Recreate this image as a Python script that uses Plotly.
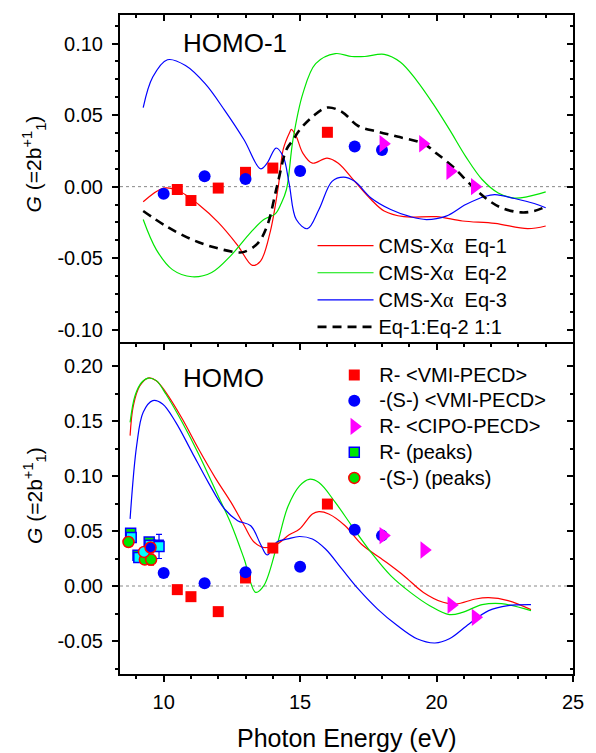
import plotly.graph_objects as go

# ---------------- HOMO-1 : CMS-Xalpha calculations ----------------
h1_eq1_x = [9.25, 10.0, 10.56, 11.28, 12.0, 12.71, 13.25, 13.55, 13.9, 14.2, 14.38, 14.62, 14.68, 14.86, 15.1,
            15.45, 15.99, 16.4, 17.0, 17.6, 18.08, 18.8, 19.99, 20.95, 22.14, 23.34, 24.0]
h1_eq1_y = [-0.0106, -0.001, -0.003, -0.0125, -0.025, -0.041, -0.055, -0.052, -0.032, 0.0, 0.026, 0.038, 0.040,
            0.035, 0.0234, 0.0164, 0.020, 0.0164, 0.0037, -0.009, -0.017, -0.021, -0.021, -0.024, -0.0257,
            -0.0294, -0.0275]

h1_eq2_x = [9.25, 9.73, 10.32, 11.04, 11.76, 12.47, 13.19, 13.67, 14.09, 14.3, 14.5, 14.74, 15.1, 15.57, 16.29,
            16.89, 17.37, 18.08, 18.68, 19.28, 19.87, 20.47, 21.07, 21.67, 22.26, 22.86, 23.34, 24.0]
h1_eq2_y = [-0.023, -0.044, -0.058, -0.063, -0.060, -0.048, -0.032, -0.023, -0.019, -0.012, -0.002, 0.033, 0.065,
            0.086, 0.093, 0.091, 0.091, 0.0925, 0.087, 0.074, 0.058, 0.040, 0.021, 0.005, -0.0044, -0.008,
            -0.007, -0.0037]

h1_eq3_x = [9.25, 9.6, 10.14, 10.8, 11.52, 12.23, 12.95, 13.55, 13.79, 14.12, 14.38, 14.6, 14.86, 15.27, 15.69,
            16.17, 16.59, 17.0, 17.6, 18.32, 19.04, 19.63, 20.35, 21.07, 21.79, 22.14, 22.86, 23.58, 24.0]
h1_eq3_y = [0.0553, 0.0766, 0.0887, 0.0847, 0.072, 0.0535, 0.0326, 0.0125, 0.0164, 0.027, 0.021, 0.002, -0.023,
            -0.0294, -0.016, 0.0037, 0.0067, 0.0037, -0.0079, -0.016, -0.021, -0.023, -0.0206, -0.0125,
            -0.0067, -0.0056, -0.0083, -0.0118, -0.0148]

h1_mix_x = [9.25, 10.08, 11.04, 11.88, 12.71, 12.95, 13.43, 13.79, 14.15, 14.5, 14.74, 14.98, 15.45, 15.99,
            16.53, 17.13, 17.84, 18.56, 19.52, 19.99, 20.59, 21.19, 21.79, 22.38, 23.1, 23.58, 24.0]
h1_mix_y = [-0.017, -0.0275, -0.037, -0.0426, -0.046, -0.0456, -0.040, -0.0275, 0.0, 0.026, 0.0326, 0.0396,
            0.0488, 0.0553, 0.0523, 0.0424, 0.0384, 0.035, 0.030, 0.0234, 0.0141, 0.0025, -0.0079, -0.0148,
            -0.018, -0.017, -0.014]

# ---------------- HOMO-1 : experiment ----------------
h1_R_vmi_x = [10.5, 11.0, 12.0, 13.0, 14.0, 16.0]
h1_R_vmi_y = [-0.002, -0.0097, -0.001, 0.010, 0.013, 0.038]
h1_S_vmi_x = [10.0, 11.5, 13.0, 15.0, 17.0, 18.0]
h1_S_vmi_y = [-0.005, 0.0072, 0.0053, 0.011, 0.028, 0.0257]
h1_cipo_x = [18.05, 19.5, 20.5, 21.4]
h1_cipo_y = [0.030, 0.030, 0.0107, 0.0]

# ---------------- HOMO : CMS-Xalpha calculations ----------------
h_eq1_x = [8.77, 8.89, 9.13, 9.43, 9.73, 10.08, 10.68, 11.28, 11.88, 12.47, 12.95, 13.31, 13.67, 14.15, 14.6,
           14.98, 15.45, 15.69, 16.05, 16.65, 17.25, 18.08, 18.8, 19.52, 20.24, 20.71, 21.43, 21.91, 22.62, 23.46]
h_eq1_y = [0.1367, 0.164, 0.182, 0.189, 0.1867, 0.176, 0.152, 0.1245, 0.0988, 0.076, 0.055, 0.040, 0.035,
           0.038, 0.0465, 0.0518, 0.0655, 0.0676, 0.0655, 0.0548, 0.038, 0.023, 0.0094, -0.0058, -0.0148,
           -0.0164, -0.0118, -0.0106, -0.0133, -0.0215]

h_eq2_x = [8.77, 8.95, 9.19, 9.43, 9.73, 10.08, 10.68, 11.28, 11.88, 12.47, 12.95, 13.37, 13.67, 14.15, 14.55,
           14.98, 15.33, 15.69, 16.29, 16.89, 17.6, 18.32, 19.04, 19.75, 20.47, 20.95, 21.67, 22.38, 23.46]
h_eq2_y = [0.1488, 0.173, 0.185, 0.189, 0.1867, 0.1745, 0.1488, 0.120, 0.088, 0.0564, 0.0245, -0.0058, 0.0003,
           0.0367, 0.072, 0.091, 0.097, 0.094, 0.076, 0.0548, 0.0306, 0.0094, -0.0058, -0.0179, -0.026,
           -0.024, -0.017, -0.016, -0.0224]

h_eq3_x = [8.77, 9.01, 9.25, 9.6, 9.96, 10.44, 11.04, 11.64, 12.23, 12.71, 13.19, 13.55, 13.79, 14.15, 14.55,
           14.98, 15.45, 15.93, 16.53, 17.13, 17.84, 18.56, 19.28, 19.94, 20.47, 21.19, 21.91, 22.62, 23.46]
h_eq3_y = [0.061, 0.1276, 0.158, 0.1685, 0.1655, 0.149, 0.1215, 0.094, 0.070, 0.0594, 0.0548, 0.038, 0.0282,
           0.040, 0.0428, 0.045, 0.0427, 0.0336, 0.0155, -0.0027, -0.021, -0.036, -0.048, -0.0518, -0.048,
           -0.0345, -0.0224, -0.0179, -0.017]

# ---------------- HOMO : experiment ----------------
h_R_vmi_x = [10.5, 11.0, 12.0, 13.0, 14.0, 16.0]
h_R_vmi_y = [-0.0033, -0.0097, -0.0233, 0.0073, 0.0345, 0.0745]
h_S_vmi_x = [10.0, 11.5, 13.0, 15.0, 17.0, 18.0]
h_S_vmi_y = [0.0118, 0.0024, 0.0124, 0.0176, 0.0512, 0.0458]
h_cipo_x = [18.05, 19.55, 20.54, 21.43]
h_cipo_y = [0.0458, 0.0327, -0.0173, -0.0285]

# peak-resolved PECD (several runs near threshold)
R_peaks_x = [8.79, 9.06, 9.47, 9.80]
R_peaks_y = [0.048, 0.028, 0.040, 0.037]
R_peaks_err = [0.004, 0.002, 0.003, 0.004]
R_peaks2_x = [8.81, 9.09, 9.50, 9.83]
R_peaks2_y = [0.044, 0.026, 0.037, 0.036]
R_peaks2_err = [0.003, 0.002, 0.003, 0.011]
S_peaks_x = [8.71, 9.31, 9.54]
S_peaks_y = [0.040, 0.024, 0.024]
S_peaks_err = [0.002, 0.003, 0.005]
S_peaks2_x = [9.28]
S_peaks2_y = [0.031]
S_peaks3_x = [9.52]
S_peaks3_y = [0.035]

# ---------------- axis ticks ----------------
x_range = [8.4, 25.0]
x_ticks = [10, 15, 20, 25]
x_ticktext = ["10", "15", "20", "25"]
top_range = [-0.11, 0.12]
top_ticks = [-0.10, -0.05, 0.0, 0.05, 0.10]
top_ticktext = ["-0.10", "-0.05", "0.00", "0.05", "0.10"]
bot_range = [-0.08, 0.22]
bot_ticks = [-0.05, 0.0, 0.05, 0.10, 0.15, 0.20]
bot_ticktext = ["-0.05", "0.00", "0.05", "0.10", "0.15", "0.20"]

FONT = "Liberation Sans, Arial, sans-serif"
RED, GREEN, BLUE, MAGENTA, CYAN = "#ff0000", "#00e600", "#0000ff", "#ff00ff", "#00ffff"
ALPHA = "<span style=\"font-family:'Liberation Serif'\">α</span>"


def big(label):
    # legend labels are drawn a little larger than the row pitch would give
    return f"<span style=\"font-size:20px\">{label}</span>"


fig = go.Figure()


def curve(x, y, color, name, xa, ya, legend, show, dash=None, width=1.2):
    fig.add_trace(go.Scatter(
        x=x, y=y, mode="lines", name=name, xaxis=xa, yaxis=ya,
        line=dict(color=color, width=width, shape="spline", smoothing=1.0, dash=dash),
        showlegend=show, legend=legend, hoverinfo="skip"))


def points(x, y, symbol, fill, size, name, xa, ya, show, legend="legend2",
           edge=None, edgew=0, err=None, errcolor=None):
    fig.add_trace(go.Scatter(
        x=x, y=y, mode="markers", name=name, xaxis=xa, yaxis=ya,
        marker=dict(symbol=symbol, color=fill, size=size,
                    line=dict(color=edge if edge else fill, width=edgew)),
        error_y=dict(type="data", array=err, visible=err is not None,
                     color=errcolor, thickness=1.2, width=3),
        showlegend=show, legend=legend, hoverinfo="skip"))


# HOMO-1 panel
curve(h1_eq1_x, h1_eq1_y, RED, big(f"CMS-X{ALPHA}  Eq-1"), "x", "y", "legend", True)
curve(h1_eq2_x, h1_eq2_y, GREEN, big(f"CMS-X{ALPHA}  Eq-2"), "x", "y", "legend", True)
curve(h1_eq3_x, h1_eq3_y, BLUE, big(f"CMS-X{ALPHA}  Eq-3"), "x", "y", "legend", True)
curve(h1_mix_x, h1_mix_y, "black", big("Eq-1:Eq-2 1:1"), "x", "y", "legend", True, dash="9px,6px", width=2.6)
points(h1_R_vmi_x, h1_R_vmi_y, "square", RED, 11, "R- <VMI-PECD>", "x", "y", False)
points(h1_S_vmi_x, h1_S_vmi_y, "circle", BLUE, 12, "-(S-) <VMI-PECD>", "x", "y", False)
points(h1_cipo_x, h1_cipo_y, "triangle-right", MAGENTA, 15, "R- <CIPO-PECD>", "x", "y", False)

# HOMO panel
curve(h_eq1_x, h_eq1_y, RED, "Eq-1", "x2", "y2", "legend", False)
curve(h_eq2_x, h_eq2_y, GREEN, "Eq-2", "x2", "y2", "legend", False)
curve(h_eq3_x, h_eq3_y, BLUE, "Eq-3", "x2", "y2", "legend", False)
points(h_R_vmi_x, h_R_vmi_y, "square", RED, 11, big("R- &lt;VMI-PECD&gt;"), "x2", "y2", True)
points(h_S_vmi_x, h_S_vmi_y, "circle", BLUE, 12, big("-(S-) &lt;VMI-PECD&gt;"), "x2", "y2", True)
points(h_cipo_x, h_cipo_y, "triangle-right", MAGENTA, 15, big("R- &lt;CIPO-PECD&gt;"), "x2", "y2", True)
points(R_peaks_x, R_peaks_y, "square", GREEN, 10, big("R- (peaks)"), "x2", "y2", True,
       edge=BLUE, edgew=1.5, err=R_peaks_err, errcolor=BLUE)
points(R_peaks2_x, R_peaks2_y, "square", CYAN, 10, "R- (peaks) b", "x2", "y2", False,
       edge=BLUE, edgew=1.5, err=R_peaks2_err, errcolor=BLUE)
points(S_peaks_x, S_peaks_y, "circle", GREEN, 11, big("-(S-) (peaks)"), "x2", "y2", True,
       edge=RED, edgew=1.5, err=S_peaks_err, errcolor=RED)
points(S_peaks2_x, S_peaks2_y, "circle", CYAN, 11, "-(S-) (peaks) b", "x2", "y2", False,
       edge=RED, edgew=1.5)
points(S_peaks3_x, S_peaks3_y, "circle", BLUE, 11, "-(S-) (peaks) c", "x2", "y2", False,
       edge=RED, edgew=1.5)

# empty traces so the mirrored (inside-tick) axes are drawn
for xa, ya in [("x3", "y"), ("x", "y3"), ("x4", "y2"), ("x2", "y4")]:
    fig.add_trace(go.Scatter(x=[], y=[], xaxis=xa, yaxis=ya, showlegend=False))

split = (674 - 344) / 659.0
tickfont = dict(family=FONT, size=20, color="black")
common = dict(showline=True, linecolor="black", linewidth=2, showgrid=False, zeroline=False,
              tickcolor="black", tickwidth=1.5, ticklen=6, mirror=False)
minor_x = dict(tickmode="linear", tick0=0, dtick=1, ticklen=3, tickcolor="black", tickwidth=1.5)

fig.update_layout(
    width=596, height=753,
    margin=dict(l=120, r=14, t=15, b=79),
    paper_bgcolor="white", plot_bgcolor="white",
    font=dict(family=FONT, size=20, color="black"),
    xaxis=dict(domain=[0, 1], anchor="y", range=x_range, showticklabels=False, ticks="",
               showline=False, showgrid=False, zeroline=False),
    yaxis=dict(domain=[split, 1], anchor="x", range=top_range, tickmode="array", tickvals=top_ticks,
               ticktext=top_ticktext, ticks="outside", tickfont=tickfont, ticklabelstandoff=5,
               minor=dict(ticks="outside", tickmode="linear", tick0=0, dtick=0.0125, ticklen=3,
                          tickcolor="black", tickwidth=1.5), **common),
    xaxis3=dict(overlaying="x", anchor="y", side="top", range=x_range, tickmode="array", tickvals=x_ticks,
                showticklabels=False, ticks="inside", minor=dict(ticks="inside", **minor_x), **common),
    yaxis3=dict(overlaying="y", anchor="x", side="right", range=top_range, tickmode="array",
                tickvals=top_ticks, showticklabels=False, ticks="inside",
                minor=dict(ticks="inside", tickmode="linear", tick0=0, dtick=0.0125, ticklen=3,
                           tickcolor="black", tickwidth=1.5), **common),
    xaxis2=dict(domain=[0, 1], anchor="y2", range=x_range, tickmode="array", tickvals=x_ticks,
                ticktext=x_ticktext, ticks="outside", tickfont=tickfont, ticklabelstandoff=3,
                minor=dict(ticks="outside", **minor_x), **common),
    yaxis2=dict(domain=[0, split], anchor="x2", range=bot_range, tickmode="array", tickvals=bot_ticks,
                ticktext=bot_ticktext, ticks="outside", tickfont=tickfont, ticklabelstandoff=5,
                minor=dict(ticks="outside", tickmode="linear", tick0=0, dtick=0.025, ticklen=3,
                           tickcolor="black", tickwidth=1.5), **common),
    xaxis4=dict(overlaying="x2", anchor="y2", side="top", range=x_range, tickmode="array",
                tickvals=x_ticks, showticklabels=False, ticks="inside",
                minor=dict(ticks="inside", **minor_x), **common),
    yaxis4=dict(overlaying="y2", anchor="x2", side="right", range=bot_range, tickmode="array",
                tickvals=bot_ticks, showticklabels=False, ticks="inside",
                minor=dict(ticks="inside", tickmode="linear", tick0=0, dtick=0.025, ticklen=3,
                           tickcolor="black", tickwidth=1.5), **common),
    legend=dict(x=0.425, y=0.678, xanchor="left", yanchor="top", bgcolor="rgba(0,0,0,0)",
                font=dict(family=FONT, size=18.5), itemwidth=56, tracegroupgap=0),
    legend2=dict(x=0.462, y=0.481, xanchor="left", yanchor="top", bgcolor="rgba(0,0,0,0)",
                 font=dict(family=FONT, size=17.5), itemwidth=40, tracegroupgap=0),
    showlegend=True,
)

# dotted zero reference lines
for yref in ["y", "y2"]:
    fig.add_shape(type="line", xref="x domain", yref=yref, x0=0, x1=1, y0=0, y1=0,
                  line=dict(color="#888888", width=1, dash="dot"), layer="below")

# panel labels and axis titles
fig.add_annotation(text="HOMO-1", xref="paper", yref="paper", x=0.253, y=0.9575, showarrow=False,
                   font=dict(family=FONT, size=26), xanchor="center", yanchor="middle")
fig.add_annotation(text="HOMO", xref="paper", yref="paper", x=0.229, y=0.449, showarrow=False,
                   font=dict(family=FONT, size=26), xanchor="center", yanchor="middle")
ytitle = "<i>G</i> (=2b<sup>+1</sup><sub>1</sub>)"
fig.add_annotation(text=ytitle, xref="paper", yref="paper", x=-0.19, y=0.7747, textangle=-90,
                   showarrow=False, font=dict(family=FONT, size=21), xanchor="center", yanchor="middle")
fig.add_annotation(text=ytitle, xref="paper", yref="paper", x=-0.19, y=0.2716, textangle=-90,
                   showarrow=False, font=dict(family=FONT, size=21), xanchor="center", yanchor="middle")
fig.add_annotation(text="Photon Energy (eV)", xref="paper", yref="paper", x=0.5, y=-0.0971,
                   showarrow=False, font=dict(family=FONT, size=25), xanchor="center", yanchor="middle")

fig.write_html("out.html")
